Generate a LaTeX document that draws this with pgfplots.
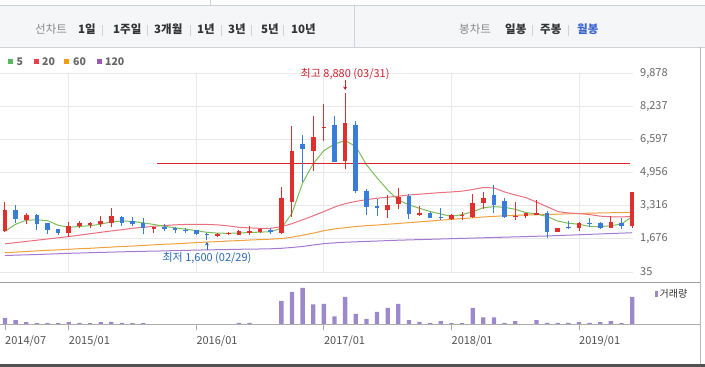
\documentclass[border=0pt]{standalone}
\usepackage{pgfplots}
\pgfplotsset{compat=1.18}
\usepackage{pgfplotstable}
\usepackage{fontspec}
\setmainfont{Noto Sans CJK KR}
\usetikzlibrary{arrows.meta}
\definecolor{upc}{HTML}{E0302E}
\definecolor{dnc}{HTML}{3A7CD9}
\definecolor{ma5}{HTML}{7CBF5A}
\definecolor{ma20}{HTML}{E8707E}
\definecolor{ma60}{HTML}{F2A03D}
\definecolor{ma120}{HTML}{A47AD0}
\definecolor{l5}{HTML}{5CB85C}
\definecolor{l20}{HTML}{E8414B}
\definecolor{l60}{HTML}{F39C12}
\definecolor{l120}{HTML}{9B59B6}
\definecolor{volc}{HTML}{9C88CB}
\definecolor{gridc}{HTML}{E8E8E8}
\definecolor{tabbg}{HTML}{F5F6F8}
\definecolor{tabline}{HTML}{CFD2D6}
\definecolor{ttxt}{HTML}{333333}
\definecolor{tgray}{HTML}{8A8A8A}
\definecolor{tblue}{HTML}{3A63CF}
\definecolor{lblgray}{HTML}{666666}
\definecolor{hired}{HTML}{D0202E}
\definecolor{lowblue}{HTML}{2A6AB5}
\definecolor{levelc}{HTML}{D9262E}

\pgfplotstableread{
m bot top lo hi
0 2084 3108 2034 3521
2 2612 2860 2414 2976
6 1951 2332 1786 2497
7 2315 2447 2200 2580
8 2365 2447 2200 2530
9 2414 2546 2282 2811
10 2480 2811 2282 3207
14 2183 2249 1984 2260
20 1836 1935 1753 1984
21 1935 1968 1869 2034
22 1885 2067 1852 2117
23 1984 2067 1869 2315
24 2034 2166 1984 2200
26 1951 3700 1918 4264
27 3521 6032 2778 7271
29 6048 6742 5057 7766
30 7170 7215 6544 8344
32 5553 7436 5123 8880
36 3108 3356 2728 3851
37 3389 3769 3158 4215
39 2860 2976 2827 3306
42 2662 2860 2612 2893
43 2827 2860 2612 3026
44 2778 3472 2728 3901
45 3472 3720 3158 4017
48 2745 2827 2612 3488
49 2811 2943 2728 2976
50 2860 2976 2860 3604
52 2034 2233 2034 2233
54 2200 2447 2084 2530
57 2233 2497 2233 2811
59 2332 3984 2200 4017
}\uptable

\pgfplotstableread{
m bot top lo hi
1 2645 3108 2447 3356
3 2398 2860 2117 2910
4 2117 2447 1918 2480
5 1951 2166 1869 2166
11 2480 2778 2332 2811
12 2398 2546 2315 2778
13 2200 2480 1902 2695
15 2183 2282 2051 2414
16 2117 2233 1984 2282
17 2084 2117 1984 2200
18 1902 2117 1869 2117
19 1902 1935 1600 1984
25 2001 2117 1918 2200
28 6131 6379 4479 6800
31 5470 7320 5470 7766
33 4066 7320 3934 7518
34 3240 4050 2877 4132
35 3191 3323 2827 3650
38 2893 3802 2662 3901
40 2728 2959 2728 2992
41 2728 2778 2612 3224
46 3356 3852 2943 4347
47 2778 3554 2695 3720
51 2034 2943 1704 3059
53 2200 2249 2166 2579
55 2398 2480 2282 2728
56 2233 2447 2166 2530
58 2332 2480 2166 2728
}\downtable

\pgfplotstableread{
m ma5 ma20 ma60 ma120
0 2050 1430 990 850
1 2400 1490 1020 870
2 2600 1550 1050 885
3 2620 1610 1080 900
4 2580 1670 1110 920
5 2350 1730 1130 940
6 2250 1790 1160 960
7 2290 1860 1190 975
8 2330 1930 1210 990
9 2400 2000 1240 1005
10 2520 2070 1270 1020
11 2560 2130 1300 1035
12 2540 2200 1320 1045
13 2470 2250 1350 1060
14 2390 2300 1380 1070
15 2300 2340 1410 1080
16 2220 2370 1430 1095
17 2160 2390 1460 1105
18 2080 2400 1490 1120
19 2000 2390 1520 1130
20 1960 2370 1540 1140
21 1950 2320 1570 1150
22 1970 2250 1590 1160
23 1990 2220 1620 1170
24 2010 2200 1640 1175
25 2030 2200 1660 1185
26 2200 2280 1690 1210
27 2950 2430 1760 1250
28 4450 2620 1860 1300
29 5400 2820 1960 1370
30 6050 3030 2080 1440
31 6370 3250 2170 1480
32 6550 3420 2230 1510
33 6250 3530 2290 1530
34 5350 3620 2330 1550
35 4700 3690 2360 1570
36 4100 3740 2400 1590
37 3600 3790 2440 1610
38 3360 3850 2480 1625
39 3190 3890 2520 1640
40 3030 3930 2560 1655
41 2910 3970 2600 1670
42 2790 4000 2640 1685
43 2880 4040 2680 1700
44 3020 4120 2720 1715
45 3220 4220 2760 1730
46 3270 4200 2790 1745
47 3240 4000 2820 1760
48 3140 3850 2840 1775
49 2980 3720 2860 1790
50 2910 3500 2870 1805
51 2780 3270 2880 1820
52 2560 3030 2900 1840
53 2450 2960 2920 1860
54 2400 2930 2930 1880
55 2290 2880 2950 1900
56 2280 2800 2960 1920
57 2330 2770 2970 1940
58 2410 2760 2980 1960
59 2780 2790 2990 1980
}\matable

\pgfplotstableread{
start level stop
14.3 5400 58.8
}\leveltable

\pgfplotstableread{
m v
0 6.7
1 4.3
2 2.3
3 1.3
4 1.3
5 1.3
6 2.3
7 1.7
8 1.3
9 2.3
10 2.7
11 1.7
12 1.3
13 1.3
22 1.7
23 1.7
26 23.7
27 32.7
28 36.7
29 20
30 20.7
31 8
32 27.7
33 10.7
34 5.7
35 12.7
36 16.7
37 20.7
38 4.3
39 2.7
40 1.7
41 3.3
42 1.3
43 1.3
44 16.7
45 7
46 7
47 1.7
48 3.3
50 4.3
51 1.7
52 1.7
53 1.7
54 2.3
55 1.7
56 2.3
57 3.3
58 1.3
59 27.7
}\voltable

\begin{document}
\begin{tikzpicture}[x=1pt,y=1pt]
\fill[white] (0,0) rectangle (705,367);
\coordinate (pa) at (0pt,95pt);
\coordinate (va) at (0pt,42.5pt);
% header bar
\fill[tabbg] (0,319.6) rectangle (705,361.6);
\draw[tabline] (0,361.6) -- (705,361.6);
\draw[tabline] (0,319.6) -- (705,319.6);
\draw[tabline] (210,361.6) -- (210,367);
\draw[tabline] (354,319.6) -- (354,361.6);
\begin{scope}[every node/.style={anchor=base west, inner sep=0pt, font=\fontsize{11.5}{13}\selectfont}]
\node[text=tgray] at (35,333) {선차트};
\node[text=ttxt, font=\fontsize{11.5}{13}\selectfont\bfseries] at (78,333) {1일};
\node[text=ttxt, font=\fontsize{11.5}{13}\selectfont\bfseries] at (113,333) {1주일};
\node[text=ttxt, font=\fontsize{11.5}{13}\selectfont\bfseries] at (154,333) {3개월};
\node[text=ttxt, font=\fontsize{11.5}{13}\selectfont\bfseries] at (197,333) {1년};
\node[text=ttxt, font=\fontsize{11.5}{13}\selectfont\bfseries] at (228,333) {3년};
\node[text=ttxt, font=\fontsize{11.5}{13}\selectfont\bfseries] at (261,333) {5년};
\node[text=ttxt, font=\fontsize{11.5}{13}\selectfont\bfseries] at (291,333) {10년};
\node[text=tgray] at (459,333) {봉차트};
\node[text=ttxt, font=\fontsize{11.5}{13}\selectfont\bfseries] at (505,333) {일봉};
\node[text=ttxt, font=\fontsize{11.5}{13}\selectfont\bfseries] at (540,333) {주봉};
\node[text=tblue, font=\fontsize{11.5}{13}\selectfont\bfseries] at (577,333) {월봉};
\end{scope}
\foreach \sx in {102,147,190,221,251,283,532,568}{\draw[tabline] (\sx,331) -- (\sx,342);}
% MA legend
\fill[l5] (8,302.5) rectangle (13,307.5);
\fill[l20] (34,302.5) rectangle (39,307.5);
\fill[l60] (64,302.5) rectangle (69,307.5);
\fill[l120] (97,302.5) rectangle (102,307.5);
\begin{scope}[every node/.style={anchor=west, inner sep=0pt, text=lblgray, font=\fontsize{10.5}{12}\selectfont\bfseries}]
\node at (16.5,305) {5};
\node at (42,305) {20};
\node at (73,305) {60};
\node at (105,305) {120};
\end{scope}

% price axis
\begin{axis}[at={(pa)}, anchor=south west, scale only axis,
  width=633pt, height=198.7pt,
  xmin=-0.47, xmax=59.08, ymin=35, ymax=9878,
  axis line style={draw=none},
  ytick={35,1676,3316,4956,6597,8237,9878},
  yticklabels={35,{1,676},{3,316},{4,956},{6,597},{8,237},{9,878}},
  yticklabel pos=right,
  yticklabel style={anchor=west, inner sep=0pt, xshift=7pt, text=lblgray, font=\fontsize{11}{12}\selectfont},
  xtick={6,18,30,42,54}, xticklabels={},
  major tick length=0pt,
  grid=major, grid style={gridc, line width=0.8pt},
  clip=false]
\addplot[color=ma120, line width=1pt] table[x=m, y=ma120] {\matable};
\addplot[color=ma60, line width=1pt] table[x=m, y=ma60] {\matable};
\addplot[color=ma20, line width=1pt] table[x=m, y=ma20] {\matable};
\addplot[color=ma5, line width=1pt] table[x=m, y=ma5] {\matable};
% level line (horizontal error bar)
\addplot[draw=none, mark=none, forget plot, error bars/.cd, x dir=plus, x explicit, error mark=none, error bar style={draw=levelc, line width=1.5pt}]
  table[x=start, y=level, x error expr=\thisrow{stop}-\thisrow{start}] {\leveltable};
% wicks
\addplot[draw=none, mark=none, forget plot, error bars/.cd, y dir=plus, y explicit, error mark=none, error bar style={draw=upc, line width=1pt}]
  table[x=m, y=lo, y error expr=\thisrow{hi}-\thisrow{lo}] {\uptable};
\addplot[draw=none, mark=none, forget plot, error bars/.cd, y dir=plus, y explicit, error mark=none, error bar style={draw=dnc, line width=1pt}]
  table[x=m, y=lo, y error expr=\thisrow{hi}-\thisrow{lo}] {\downtable};
% bodies
\addplot[draw=none, mark=none, forget plot, error bars/.cd, y dir=plus, y explicit, error mark=none, error bar style={draw=upc, line width=4.6pt}]
  table[x=m, y=bot, y error expr=\thisrow{top}-\thisrow{bot}] {\uptable};
\addplot[draw=none, mark=none, forget plot, error bars/.cd, y dir=plus, y explicit, error mark=none, error bar style={draw=dnc, line width=4.6pt}]
  table[x=m, y=bot, y error expr=\thisrow{top}-\thisrow{bot}] {\downtable};
% annotations
\node[text=hired, font=\fontsize{11}{12}\selectfont, inner sep=0pt, yshift=19.5pt] at (axis cs:32,8880) {최고 8,880 (03/31)};
\draw[hired, line width=0.8pt, -{Stealth[length=3.5pt,width=4pt]}] ([yshift=13.5pt]axis cs:32,8880) -- ([yshift=3.5pt]axis cs:32,8880);
\node[text=lowblue, font=\fontsize{11}{12}\selectfont, inner sep=0pt, yshift=-17.6pt] at (axis cs:19,1600) {최저 1,600 (02/29)};
\draw[lowblue, line width=0.8pt, -{Stealth[length=3.5pt,width=4pt]}] ([yshift=-10pt]axis cs:19,1600) -- ([yshift=-1.5pt]axis cs:19,1600);
\end{axis}

% volume axis
\begin{axis}[at={(va)}, anchor=south west, scale only axis,
  width=633pt, height=42.5pt,
  xmin=-0.47, xmax=59.08, ymin=0, ymax=42.5,
  axis line style={draw=none},
  ytick=\empty,
  xtick={0,6,18,30,42,54},
  xticklabels={2014/07,2015/01,2016/01,2017/01,2018/01,2019/01},
  xtick pos=bottom, xtick align=outside, major tick length=6pt,
  tick style={draw=gray!70, line width=0.8pt},
  xticklabel style={anchor=west, inner sep=0pt, xshift=0pt, yshift=-10.5pt, text=ttxt!85, font=\fontsize{11}{12}\selectfont},
  clip=false]
\addplot[ybar, bar width=4.3pt, bar shift=0pt, fill=volc, draw=none] table[x=m, y=v] {\voltable};
\end{axis}

\draw[gray!65, line width=0.8pt] (0,42.5) -- (700,42.5);
\draw[gray!75, line width=0.8pt] (0,85) -- (700,85);
\draw[gray!55, line width=0.8pt] (700.5,2) -- (700.5,319.6);
\draw[black!68, line width=2.5pt] (0,1.5) -- (705,1.5);
\fill[volc] (655,69.5) rectangle (657.5,76);
\node[anchor=west, inner sep=0pt, text=ttxt, font=\fontsize{10}{12}\selectfont] at (659.5,72.8) {거래량};
\pgfresetboundingbox
\useasboundingbox (0,0) rectangle (705,367);
\end{tikzpicture}
\end{document}
